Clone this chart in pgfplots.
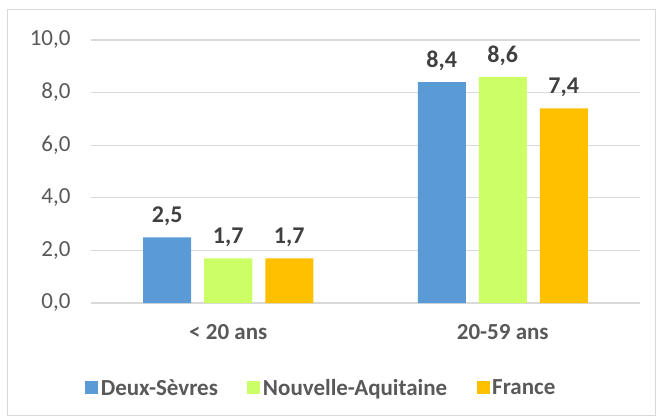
\documentclass[border=0pt]{standalone}
\usepackage{pgfplots}
\pgfplotsset{compat=1.18}
\usepackage{fontspec}
\setmainfont{Carlito}
\definecolor{cblue}{HTML}{5B9BD5}
\definecolor{cgreen}{HTML}{CCFF66}
\definecolor{corange}{HTML}{FFC000}
\definecolor{txt}{HTML}{595959}
\definecolor{lbl}{HTML}{404040}
\definecolor{gridc}{HTML}{D9D9D9}
\begin{document}
\begin{tikzpicture}
\path[use as bounding box] (-91bp,-115bp) rectangle (567bp,303bp);
\draw[gridc, line width=1bp] (-83bp,-112bp) rectangle (564bp,293bp);
\begin{axis}[
  at={(0,0)}, anchor=south west,
  scale only axis, width=549bp, height=263bp,
  xmin=-0.5, xmax=1.5, ymin=0, ymax=10,
  ybar=13bp, bar width=48bp,
  axis line style={draw=none},
  major tick length=0pt,
  ytick={0,2,4,6,8,10},
  ymajorgrids, grid style={gridc, line width=1.2bp},
  xtick=data, xticklabels={{< 20 ans},{20-59 ans}},
  /pgf/number format/assume math mode=true,
  yticklabel style={/pgf/number format/.cd, fixed, fixed zerofill, precision=1, use comma, /tikz/.cd, font=\fontsize{23bp}{27bp}\selectfont, text=txt, xshift=-17bp},
  xticklabel style={font=\fontsize{23bp}{27bp}\selectfont\bfseries, text=txt, yshift=-18bp},
  nodes near coords,
  nodes near coords style={/pgf/number format/.cd, fixed, fixed zerofill, precision=1, use comma, assume math mode=true, /tikz/.cd, font=\fontsize{24bp}{28bp}\selectfont\bfseries, text=lbl, yshift=8bp},
  legend style={at={(0.42,-0.323)}, anchor=center, draw=none, fill=none, legend columns=3,
    font=\fontsize{23bp}{27bp}\selectfont\bfseries, text=txt,
    nodes={inner xsep=2.5bp},
    /tikz/every even column/.append style={column sep=27bp}},
  legend image code/.code={\fill[#1] (0bp,-6.5bp) rectangle (13bp,6.5bp);},
]
\addplot[fill=cblue, draw=none] coordinates {(0,2.5) (1,8.4)};
\addplot[fill=cgreen, draw=none] coordinates {(0,1.7) (1,8.6)};
\addplot[fill=corange, draw=none] coordinates {(0,1.7) (1,7.4)};
\legend{Deux-Sèvres, Nouvelle-Aquitaine, France}
\end{axis}
\end{tikzpicture}
\end{document}
